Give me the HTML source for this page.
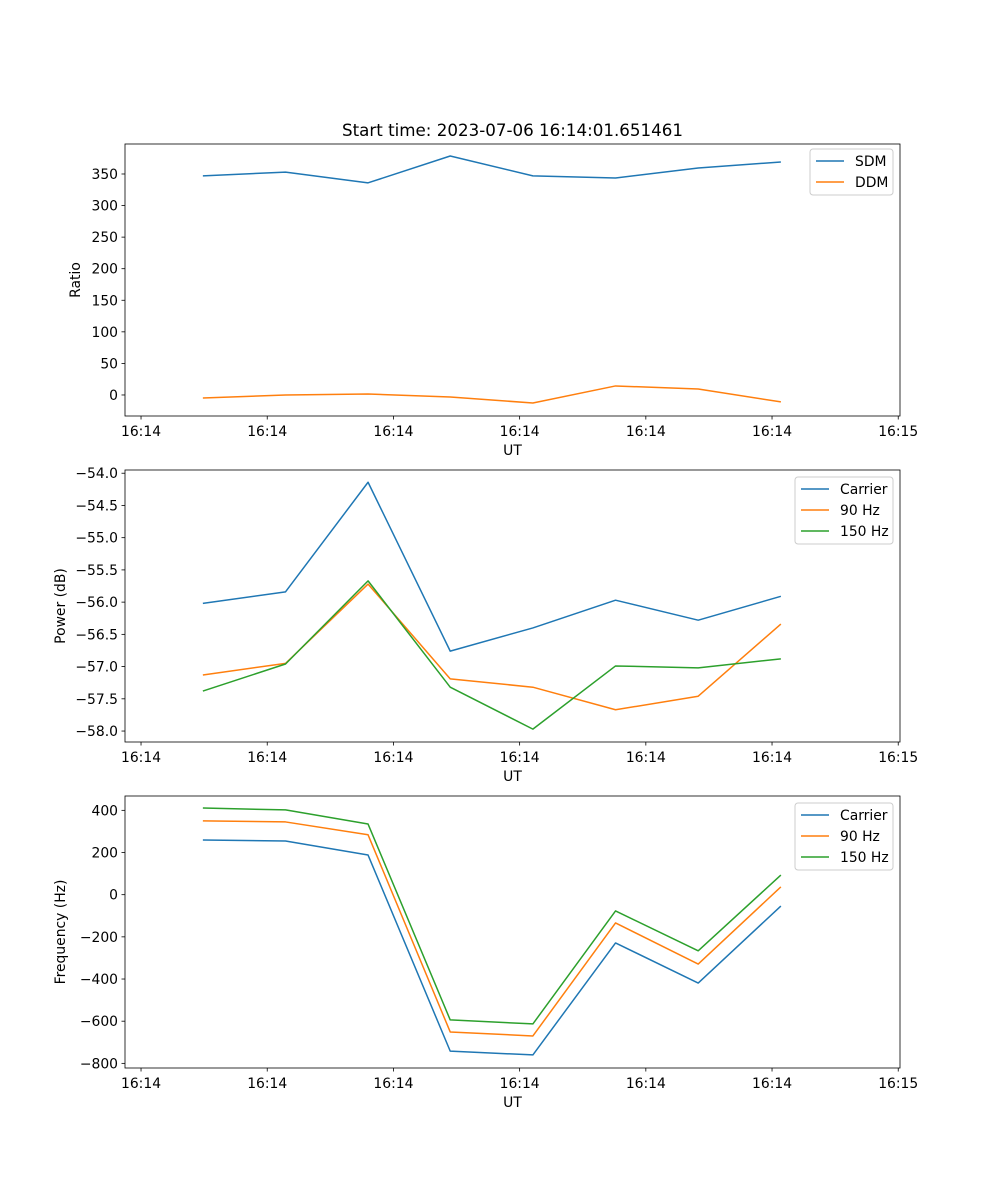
<!DOCTYPE html>
<html><head><meta charset="utf-8"><style>
html,body{margin:0;padding:0;background:#fff}
svg{display:block;font-family:"DejaVu Sans","Liberation Sans",sans-serif}
</style></head><body>
<svg id="fig" width="1000" height="1200" xmlns="http://www.w3.org/2000/svg"></svg>
<script>
const times = [4.9, 11.45, 17.99, 24.5, 31.05, 37.6, 44.15, 50.7];
const xTickVals = [0, 10, 20, 30, 40, 50, 60];
const xTickLabels = ["16:14","16:14","16:14","16:14","16:14","16:14","16:15"];
const sdm = [347, 353, 336, 378.5, 347, 343.7, 359.5, 369];
const ddm = [-4.8, 0, 1.6, -3.2, -12.7, 14.3, 9.5, -11];
const powCarrier = [-56.02, -55.84, -54.14, -56.76, -56.40, -55.97, -56.28, -55.91];
const pow90 = [-57.13, -56.95, -55.72, -57.19, -57.32, -57.67, -57.46, -56.34];
const pow150 = [-57.38, -56.96, -55.67, -57.32, -57.97, -56.99, -57.02, -56.88];
const freqCarrier = [259.5, 254.7, 188, -742, -760, -229, -419, -54];
const freq90 = [350, 345, 284, -651, -670, -134, -329, 37];
const freq150 = [411, 402, 335, -594, -613, -77, -266, 93];
const ratioTicks = [0, 50, 100, 150, 200, 250, 300, 350];
const powTicks = [-58.0, -57.5, -57.0, -56.5, -56.0, -55.5, -55.0, -54.5, -54.0];
const freqTicks = [-800, -600, -400, -200, 0, 200, 400];

const NS = "http://www.w3.org/2000/svg";
const svg = document.getElementById('fig');
function el(tag, attrs, parent) {
  const e = document.createElementNS(NS, tag);
  for (const k in attrs) e.setAttribute(k, attrs[k]);
  (parent || svg).appendChild(e);
  return e;
}
const X0 = 125, X1 = 900, XMIN = -1.27, XMAX = 60.14;
const xs = v => X0 + (v - XMIN) / (XMAX - XMIN) * (X1 - X0);
const C = ['#1f77b4', '#ff7f0e', '#2ca02c'];

function panel(name, top, bottom, ymin, ymax, yticks, ydec, ylabel, series, labels, legendBox) {
  const g = el('g', {});
  
  
  const ys = v => bottom - (v - ymin) / (ymax - ymin) * (bottom - top);
  xTickVals.forEach((v, i) => {
    const x = xs(v);
    const t = el('line', {x1: x, x2: x, y1: bottom, y2: bottom + 3.5, stroke: '#000', 'stroke-width': 0.8}, g);
    
    
    const tx = el('text', {x: x, y: bottom + 20, 'text-anchor': 'middle', 'font-size': 13.9}, g);
    
    
    tx.textContent = xTickLabels[i];
  });
  yticks.forEach(v => {
    const y = ys(v);
    const t = el('line', {x1: X0 - 3.5, x2: X0, y1: y, y2: y, stroke: '#000', 'stroke-width': 0.8}, g);
    
    
    const tx = el('text', {x: X0 - 7, y: y + 5, 'text-anchor': 'end', 'font-size': 13.9}, g);
    
    
    tx.textContent = (v < 0 ? '\u2212' : '') + Math.abs(v).toFixed(ydec);
  });
  const xl = el('text', {x: (X0 + X1) / 2, y: bottom + 39, 'text-anchor': 'middle', 'font-size': 13.9}, g);
  
  
  xl.textContent = 'UT';
  const yx = ylabel === 'Ratio' ? 80 : 65;
  const yl = el('text', {x: yx, y: (top + bottom) / 2, 'text-anchor': 'middle', 'font-size': 13.9, transform: `rotate(-90 ${yx} ${(top + bottom) / 2})`}, g);
  
  
  yl.textContent = ylabel;
  series.forEach((s, k) => {
    const d = s.map((v, i) => (i ? 'L' : 'M') + xs(times[i]).toFixed(2) + ',' + ys(v).toFixed(2)).join(' ');
    const p = el('path', {d: d, fill: 'none', stroke: C[k], 'stroke-width': 1.5, 'stroke-linejoin': 'round'}, g);
    
    
  });
  const fr = el('rect', {x: X0, y: top, width: X1 - X0, height: bottom - top, fill: 'none', stroke: '#000', 'stroke-width': 0.8}, g);
  
  
  const lg = el('g', {}, g);
  
  
  const [lx, ly, lw] = legendBox;
  el('rect', {x: lx, y: ly, width: lw, height: 4 + labels.length * 21, rx: 3, fill: '#fff', 'fill-opacity': 0.8, stroke: '#ccc', 'stroke-width': 1}, lg);
  labels.forEach((lab, k) => {
    const y = ly + 12 + k * 21;
    el('line', {x1: lx + 6, x2: lx + 34, y1: y, y2: y, stroke: C[k], 'stroke-width': 1.5}, lg);
    const t = el('text', {x: lx + 45, y: y + 5, 'font-size': 13.9}, lg);
    
    
    t.textContent = lab;
  });
}

const title = el('text', {x: 512.5, y: 136, 'text-anchor': 'middle', 'font-size': 16.7});


title.textContent = 'Start time: 2023-07-06 16:14:01.651461';

panel('ratio-panel', 144, 416, -33.3, 397.5, ratioTicks, 0, 'Ratio', [sdm, ddm], ['SDM', 'DDM'], [810, 149, 83]);
panel('power-panel', 470, 742, -58.17, -53.95, powTicks, 1, 'Power (dB)', [powCarrier, pow90, pow150], ['Carrier', '90 Hz', '150 Hz'], [795, 477, 98]);
panel('frequency-panel', 796, 1068, -822, 468, freqTicks, 0, 'Frequency (Hz)', [freqCarrier, freq90, freq150], ['Carrier', '90 Hz', '150 Hz'], [795, 803, 98]);
</script>
</body></html>
